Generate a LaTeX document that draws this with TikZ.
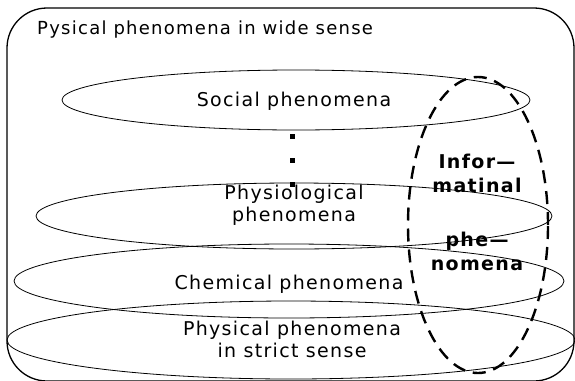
\documentclass[tikz,border=0pt]{standalone}
\usepackage{fontspec}
\setmainfont{DejaVu Sans}[LetterSpace=7]
\begin{document}
\begin{tikzpicture}[x=1pt,y=-1pt,
  lbl/.style={font=\fontsize{19}{22}\selectfont, inner sep=0pt, align=center},
  titlelbl/.style={font=\fontsize{18}{20}\selectfont, inner sep=0pt},
  infolbl/.style={font=\bfseries\fontsize{19}{24}\selectfont, inner sep=0pt, align=center},
  thin/.style={line width=0.8pt},
  dashring/.style={line width=2.4pt, dash pattern=on 13pt off 8pt},
  dotsq/.style={fill=black, minimum size=5pt, inner sep=0pt}]
\useasboundingbox (0,0) rectangle (575,380);
% outer frame
\draw[line width=1.3pt, rounded corners=40pt] (7,8) rectangle (574,381);
\node[titlelbl, anchor=base west] (title) at (37,34) {Pysical phenomena in wide sense};
% layers
\draw[thin] (296,100) ellipse [x radius=234pt, y radius=30pt];
\draw[thin] (294,216) ellipse [x radius=258pt, y radius=33pt];
\draw[thin] (289,281) ellipse [x radius=275pt, y radius=37pt];
\draw[thin] (291,340) ellipse [x radius=284pt, y radius=39pt];
% dashed informational ellipse
\draw[dashring] (478,225) ellipse [x radius=70pt, y radius=148pt];
% texts
\node[lbl, anchor=base] (social) at (294,106) {Social phenomena};
\node[lbl, anchor=base] (physio) at (294,221) {Physiological\\phenomena};
\node[lbl, anchor=base] (chem) at (289,289) {Chemical phenomena};
\node[lbl, anchor=base] (phys) at (292,357) {Physical phenomena\\in strict sense};
\node[infolbl, anchor=base] (info1) at (477,192) {Infor—\\matinal};
\node[infolbl, anchor=base] (info2) at (477,270) {phe—\\nomena};
% dots
\node[dotsq] (d1) at (292,136) {};
\node[dotsq] (d2) at (292,160) {};
\node[dotsq] (d3) at (292,184) {};
\end{tikzpicture}
\end{document}
